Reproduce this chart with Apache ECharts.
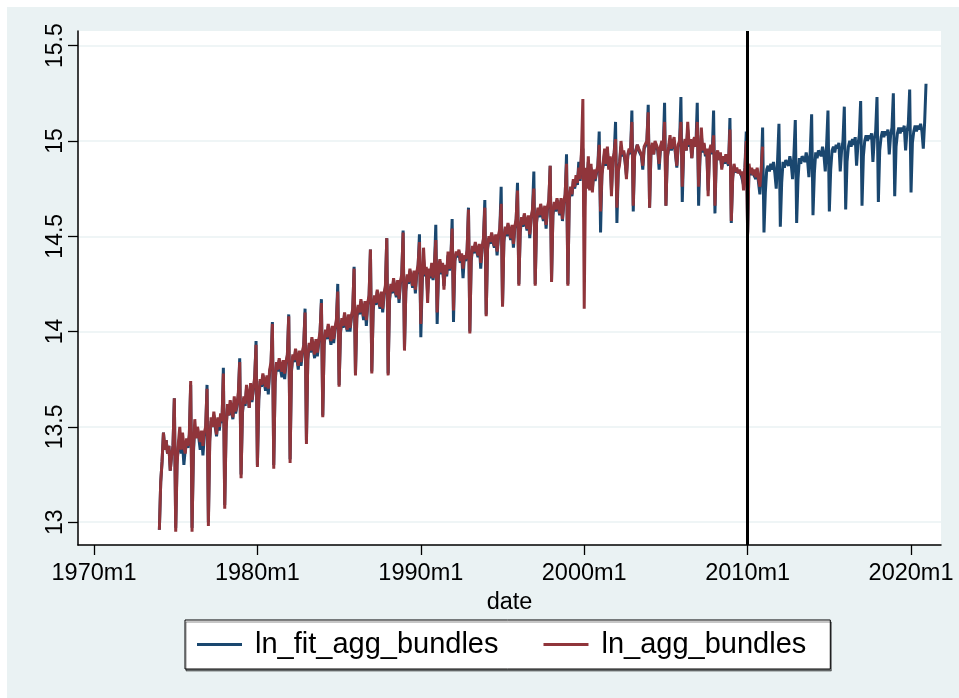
<!DOCTYPE html>
<html><head><meta charset="utf-8">
<script src="https://cdn.jsdelivr.net/npm/echarts@6/dist/echarts.min.js"></script>
<style>html,body{margin:0;padding:0;background:#fff;}#c{position:absolute;left:7px;top:7px;width:952px;height:691px;}</style>
</head><body><div id="c"></div>
<script>
// months since 1960m1; first observation 1974m1
const startMonth = 168;
const seriesNames = ['ln_fit_agg_bundles', 'ln_agg_bundles'];
const xTicks = [120, 240, 360, 480, 600, 720];
const xTickLabels = ['1970m1', '1980m1', '1990m1', '2000m1', '2010m1', '2020m1'];
const yTicks = [13, 13.5, 14, 14.5, 15, 15.5];
const yTickLabels = ['13', '13.5', '14', '14.5', '15', '15.5'];
const breakMonth = 600; // 2010m1
const xTitle = 'date';

// ln_fit_agg_bundles, 1974m1 - 2020m12 (one row per year, Jan..Dec)
const fitValues = [
12.96, 13.21, 13.32, 13.47, 13.38, 13.43, 13.36, 13.40, 13.27, 13.35, 13.40, 13.65,
12.97, 13.32, 13.40, 13.45, 13.36, 13.42, 13.30, 13.38, 13.42, 13.39, 13.45, 13.72,
12.97, 13.36, 13.50, 13.45, 13.48, 13.44, 13.38, 13.46, 13.35, 13.45, 13.48, 13.72,
13.00, 13.44, 13.53, 13.50, 13.56, 13.50, 13.45, 13.53, 13.48, 13.55, 13.52, 13.81,
13.09, 13.50, 13.60, 13.56, 13.62, 13.58, 13.54, 13.64, 13.57, 13.61, 13.66, 13.86,
13.25, 13.57, 13.65, 13.61, 13.70, 13.66, 13.60, 13.71, 13.63, 13.69, 13.75, 13.95,
13.30, 13.64, 13.74, 13.71, 13.77, 13.73, 13.69, 13.76, 13.67, 13.79, 13.82, 14.05,
13.30, 13.73, 13.83, 13.79, 13.85, 13.80, 13.76, 13.84, 13.75, 13.83, 13.87, 14.09,
13.33, 13.79, 13.87, 13.84, 13.90, 13.86, 13.80, 13.89, 13.82, 13.88, 13.92, 14.12,
13.43, 13.85, 13.93, 13.89, 13.96, 13.91, 13.86, 13.95, 13.87, 13.94, 13.99, 14.17,
13.56, 13.93, 14.00, 13.96, 14.03, 13.98, 13.93, 14.02, 13.94, 14.01, 14.05, 14.25,
13.72, 13.99, 14.06, 14.02, 14.09, 14.04, 14.00, 14.08, 14.00, 14.07, 14.11, 14.34,
13.78, 14.07, 14.13, 14.09, 14.16, 14.11, 14.06, 14.15, 14.03, 14.14, 14.18, 14.43,
13.79, 14.11, 14.18, 14.14, 14.21, 14.16, 14.12, 14.20, 14.10, 14.19, 14.23, 14.49,
13.78, 14.16, 14.24, 14.20, 14.27, 14.22, 14.18, 14.26, 14.15, 14.25, 14.29, 14.53,
13.91, 14.21, 14.29, 14.25, 14.32, 14.27, 14.23, 14.31, 14.20, 14.30, 14.34, 14.51,
13.97, 14.25, 14.38, 14.29, 14.33, 14.20, 14.32, 14.28, 14.34, 14.27, 14.34, 14.56,
14.04, 14.31, 14.37, 14.30, 14.35, 14.24, 14.34, 14.29, 14.40, 14.32, 14.36, 14.59,
14.05, 14.37, 14.41, 14.39, 14.42, 14.36, 14.40, 14.28, 14.39, 14.37, 14.42, 14.65,
14.00, 14.37, 14.44, 14.41, 14.46, 14.42, 14.39, 14.45, 14.33, 14.43, 14.48, 14.69,
14.09, 14.43, 14.49, 14.46, 14.51, 14.47, 14.44, 14.50, 14.40, 14.49, 14.53, 14.76,
14.14, 14.47, 14.54, 14.50, 14.56, 14.52, 14.48, 14.55, 14.44, 14.54, 14.58, 14.78,
14.25, 14.52, 14.59, 14.55, 14.61, 14.57, 14.53, 14.60, 14.49, 14.59, 14.63, 14.84,
14.25, 14.57, 14.64, 14.60, 14.66, 14.62, 14.58, 14.65, 14.54, 14.64, 14.68, 14.87,
14.27, 14.61, 14.67, 14.63, 14.69, 14.65, 14.61, 14.69, 14.58, 14.67, 14.71, 14.93,
14.25, 14.69, 14.75, 14.71, 14.79, 14.75, 14.80, 14.77, 14.89, 14.79, 14.93, 14.96,
14.60, 14.84, 14.77, 14.89, 14.76, 14.86, 14.75, 14.84, 14.79, 14.83, 14.86, 15.05,
14.52, 14.83, 14.88, 14.94, 14.87, 14.95, 14.86, 14.91, 14.74, 14.89, 14.93, 15.10,
14.57, 14.85, 14.89, 14.97, 14.92, 14.94, 14.89, 14.82, 14.92, 14.95, 14.93, 15.16,
14.63, 14.93, 14.94, 14.98, 14.95, 14.96, 14.92, 14.85, 14.96, 14.97, 14.99, 15.19,
14.65, 14.94, 14.98, 14.93, 14.99, 14.97, 14.95, 14.85, 14.96, 14.99, 14.95, 15.20,
14.66, 14.91, 14.96, 15.01, 14.95, 14.98, 15.00, 14.93, 14.86, 14.97, 14.99, 15.23,
14.68, 14.95, 15.00, 14.95, 15.06, 14.97, 15.00, 14.91, 14.99, 15.01, 14.97, 15.20,
14.66, 14.91, 15.03, 14.94, 14.98, 14.92, 14.95, 14.74, 14.94, 14.97, 14.93, 15.16,
14.62, 14.92, 14.94, 14.90, 14.93, 14.86, 14.91, 14.88, 14.92, 14.89, 14.87, 15.12,
14.57, 14.81, 14.87, 14.84, 14.85, 14.84, 14.85, 14.83, 14.84, 14.77, 14.86, 15.05,
14.52, 14.86, 14.82, 14.85, 14.83, 14.84, 14.80, 14.85, 14.78, 14.72, 14.84, 15.07,
14.52, 14.73, 14.85, 14.87, 14.84, 14.88, 14.85, 14.89, 14.83, 14.75, 14.90, 15.09,
14.55, 14.78, 14.89, 14.86, 14.90, 14.91, 14.87, 14.92, 14.88, 14.80, 14.93, 15.11,
14.57, 14.80, 14.91, 14.88, 14.92, 14.93, 14.89, 14.94, 14.90, 14.81, 14.95, 15.14,
14.61, 14.83, 14.94, 14.91, 14.95, 14.96, 14.92, 14.97, 14.93, 14.84, 14.98, 15.16,
14.63, 14.85, 14.95, 14.97, 14.94, 14.98, 14.96, 14.99, 14.84, 14.95, 15.00, 15.18,
14.64, 14.89, 14.97, 15.00, 14.97, 15.01, 14.98, 15.02, 14.87, 14.98, 15.03, 15.21,
14.66, 14.92, 15.00, 15.03, 15.00, 15.03, 15.01, 15.04, 14.89, 15.01, 15.05, 15.23,
14.68, 14.95, 15.02, 15.05, 15.02, 15.05, 15.03, 15.06, 14.93, 15.03, 15.07, 15.25,
14.71, 14.97, 15.04, 15.07, 15.04, 15.07, 15.05, 15.08, 14.95, 15.05, 15.09, 15.27,
14.73, 14.99, 15.05, 15.08, 15.05, 15.08, 15.06, 15.09, 15.05, 14.96, 15.10, 15.30
];

// ln_agg_bundles, 1974m1 - 2010m12
const aggValues = [
12.96, 13.21, 13.32, 13.47, 13.38, 13.43, 13.36, 13.40, 13.27, 13.35, 13.40, 13.65,
12.95, 13.30, 13.42, 13.50, 13.38, 13.47, 13.40, 13.36, 13.44, 13.40, 13.46, 13.74,
12.95, 13.38, 13.54, 13.44, 13.50, 13.46, 13.42, 13.48, 13.40, 13.47, 13.50, 13.70,
12.98, 13.42, 13.55, 13.50, 13.58, 13.52, 13.46, 13.55, 13.50, 13.57, 13.53, 13.78,
13.07, 13.48, 13.62, 13.56, 13.64, 13.60, 13.55, 13.66, 13.58, 13.62, 13.68, 13.84,
13.23, 13.58, 13.66, 13.62, 13.72, 13.67, 13.60, 13.73, 13.64, 13.70, 13.76, 13.93,
13.29, 13.66, 13.75, 13.72, 13.78, 13.74, 13.71, 13.77, 13.70, 13.80, 13.84, 14.04,
13.28, 13.74, 13.84, 13.80, 13.86, 13.82, 13.79, 13.85, 13.78, 13.84, 13.88, 14.08,
13.31, 13.80, 13.88, 13.85, 13.91, 13.87, 13.82, 13.90, 13.84, 13.89, 13.93, 14.10,
13.41, 13.86, 13.94, 13.90, 13.97, 13.92, 13.88, 13.96, 13.89, 13.95, 14.00, 14.15,
13.55, 13.94, 14.01, 13.97, 14.04, 13.99, 13.95, 14.03, 13.96, 14.02, 14.06, 14.21,
13.71, 14.00, 14.07, 14.03, 14.10, 14.05, 14.01, 14.09, 14.02, 14.08, 14.12, 14.33,
13.77, 14.08, 14.14, 14.10, 14.17, 14.12, 14.08, 14.16, 14.06, 14.15, 14.19, 14.43,
13.78, 14.12, 14.19, 14.15, 14.22, 14.17, 14.13, 14.21, 14.12, 14.20, 14.24, 14.49,
13.77, 14.17, 14.25, 14.21, 14.28, 14.23, 14.19, 14.27, 14.17, 14.26, 14.30, 14.52,
13.90, 14.22, 14.30, 14.26, 14.33, 14.28, 14.24, 14.32, 14.22, 14.31, 14.35, 14.47,
14.04, 14.27, 14.44, 14.30, 14.34, 14.15, 14.33, 14.29, 14.36, 14.28, 14.35, 14.48,
14.10, 14.33, 14.38, 14.31, 14.36, 14.22, 14.35, 14.30, 14.42, 14.33, 14.37, 14.54,
14.11, 14.38, 14.42, 14.40, 14.43, 14.37, 14.41, 14.33, 14.40, 14.38, 14.43, 14.64,
13.99, 14.38, 14.45, 14.42, 14.47, 14.43, 14.40, 14.46, 14.36, 14.44, 14.49, 14.65,
14.08, 14.44, 14.50, 14.47, 14.52, 14.48, 14.45, 14.51, 14.42, 14.50, 14.54, 14.67,
14.13, 14.48, 14.55, 14.51, 14.57, 14.53, 14.49, 14.56, 14.46, 14.55, 14.59, 14.74,
14.24, 14.53, 14.60, 14.56, 14.62, 14.58, 14.54, 14.61, 14.51, 14.60, 14.64, 14.75,
14.24, 14.58, 14.65, 14.61, 14.67, 14.63, 14.59, 14.66, 14.56, 14.65, 14.69, 14.87,
14.26, 14.62, 14.68, 14.64, 14.70, 14.66, 14.62, 14.70, 14.59, 14.68, 14.72, 14.88,
14.24, 14.70, 14.76, 14.72, 14.80, 14.76, 14.82, 14.78, 14.86, 14.80, 14.95, 15.22,
14.12, 14.86, 14.75, 14.92, 14.74, 14.88, 14.73, 14.85, 14.80, 14.84, 14.87, 14.98,
14.63, 14.82, 14.89, 14.96, 14.88, 14.97, 14.85, 14.92, 14.71, 14.90, 14.94, 15.01,
14.65, 14.84, 14.88, 15.00, 14.93, 14.95, 14.90, 14.80, 14.93, 14.96, 14.94, 15.10,
14.66, 14.92, 14.95, 14.98, 14.96, 14.97, 14.93, 14.87, 14.97, 14.98, 15.00, 15.15,
14.65, 14.95, 14.99, 14.93, 15.00, 14.98, 14.96, 14.88, 14.97, 15.00, 14.95, 15.10,
14.66, 14.92, 14.97, 15.03, 14.96, 14.99, 15.02, 14.94, 14.87, 14.98, 15.00, 15.10,
14.76, 14.96, 15.01, 14.95, 15.10, 14.98, 15.01, 14.91, 15.00, 15.02, 14.97, 15.10,
14.76, 14.92, 15.07, 14.95, 14.99, 14.93, 14.96, 14.71, 14.95, 14.98, 14.94, 15.03,
14.66, 14.93, 14.95, 14.90, 14.94, 14.85, 14.92, 14.89, 14.93, 14.90, 14.88, 15.06,
14.58, 14.80, 14.88, 14.84, 14.86, 14.83, 14.85, 14.82, 14.84, 14.74, 14.85, 15.00,
14.51, 14.88, 14.83, 14.86, 14.82, 14.85, 14.81, 14.86, 14.80, 14.76, 14.85, 14.97
];

const FONT = "'Liberation Sans', Arial, Helvetica, sans-serif";
const toPairs = arr => arr.map((v, i) => [startMonth + i, v]);
const xLabelFor = v => { const k = xTicks.indexOf(v); return k >= 0 ? xTickLabels[k] : ''; };
const yLabelFor = v => { const k = yTicks.findIndex(t => Math.abs(t - v) < 1e-6); return k >= 0 ? yTickLabels[k] : ''; };

const chart = echarts.init(document.getElementById('c'), null, {renderer: 'canvas'});
chart.setOption({
  animation: false,
  backgroundColor: '#EAF2F3',
  grid: {left: 71, top: 24, right: 18, bottom: 153, show: true, backgroundColor: '#ffffff', borderWidth: 0},
  xAxis: {
    type: 'value', min: 108.25, max: 742,
    name: xTitle, nameLocation: 'middle', nameGap: 41,
    nameTextStyle: {fontSize: 23.5, color: '#000', fontFamily: FONT},
    axisLine: {show: true, onZero: false, lineStyle: {color: '#000', width: 1.5}},
    axisTick: {show: true, length: 10, customValues: xTicks, lineStyle: {color: '#000', width: 1.3}},
    axisLabel: {customValues: xTicks, formatter: xLabelFor, fontSize: 23.5, color: '#000', fontFamily: FONT, margin: 17},
    splitLine: {show: false}
  },
  yAxis: {
    type: 'value', min: 12.88, max: 15.577,
    axisLine: {show: true, onZero: false, lineStyle: {color: '#000', width: 1.5}},
    axisTick: {show: true, length: 10, customValues: yTicks, lineStyle: {color: '#000', width: 1.3}},
    axisLabel: {customValues: yTicks, formatter: yLabelFor, rotate: 90, fontSize: 23, color: '#000', fontFamily: FONT, margin: 11},
    splitLine: {show: true, lineStyle: {color: '#EAF2F3', width: 1.5}}
  },
  legend: {
    left: 178, top: 613,
    icon: 'rect', itemWidth: 45, itemHeight: 3, itemGap: 45,
    padding: [10, 24, 10, 12],
    backgroundColor: '#fff', borderColor: '#000', borderWidth: 1,
    shadowColor: 'rgba(0,0,0,0.45)', shadowOffsetX: 1, shadowOffsetY: 2, shadowBlur: 0,
    textStyle: {fontSize: 29, color: '#000', fontFamily: FONT, padding: [0, 0, 0, 8]},
    data: seriesNames
  },
  series: [
    {
      name: seriesNames[0], type: 'line', data: toPairs(fitValues),
      symbol: 'none', showSymbol: false, emphasis: {disabled: true},
      lineStyle: {color: '#1A476F', width: 3}, itemStyle: {color: '#1A476F'}
    },
    {
      name: seriesNames[1], type: 'line', data: toPairs(aggValues),
      symbol: 'none', showSymbol: false, emphasis: {disabled: true},
      lineStyle: {color: '#90353B', width: 3}, itemStyle: {color: '#90353B'},
      markLine: {silent: true, symbol: 'none', label: {show: false},
        lineStyle: {color: '#000', width: 3, type: 'solid'},
        data: [{xAxis: breakMonth}]}
    }
  ]
});
</script></body></html>
